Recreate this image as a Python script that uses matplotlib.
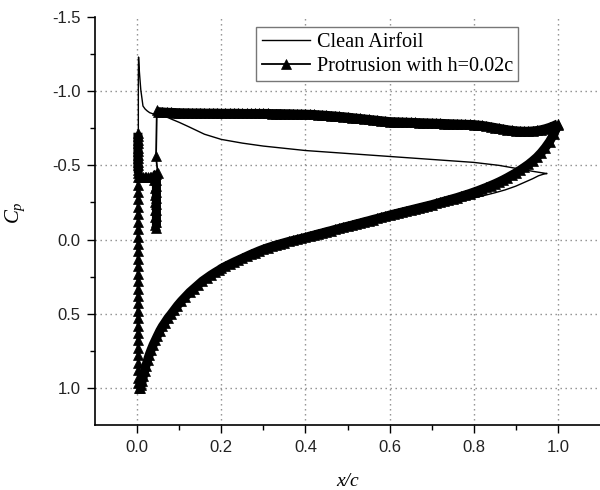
import numpy as np
import matplotlib
matplotlib.use("Agg")
import matplotlib.pyplot as plt

plt.rcParams['axes.unicode_minus'] = False
plt.rcParams['mathtext.fontset'] = 'custom'
plt.rcParams['mathtext.it'] = 'Liberation Serif:italic'
plt.rcParams['mathtext.rm'] = 'Liberation Serif'

# ---------------- data ----------------
# Clean airfoil: lower surface (TE -> LE)
clean_low_x = [0.973, 0.965, 0.954, 0.94, 0.92, 0.9, 0.875, 0.85, 0.825, 0.8, 0.76, 0.716, 0.68,
               0.64, 0.6, 0.55, 0.5, 0.45, 0.4, 0.35, 0.3, 0.25, 0.2, 0.17, 0.15, 0.125, 0.1,
               0.085, 0.07, 0.055, 0.045, 0.035, 0.027, 0.02, 0.015, 0.011, 0.008, 0.006]
clean_low_cp = [-0.445, -0.44, -0.43, -0.41, -0.385, -0.36, -0.335, -0.315, -0.297, -0.28, -0.25,
                -0.22, -0.195, -0.17, -0.15, -0.12, -0.088, -0.052, -0.015, 0.022, 0.065, 0.125,
                0.195, 0.25, 0.29, 0.35, 0.415, 0.46, 0.515, 0.58, 0.63, 0.69, 0.75, 0.81, 0.87,
                0.92, 0.96, 1.0]
# Clean airfoil: upper surface (LE -> TE)
clean_up_x = [0.004, 0.003, 0.003, 0.0035, 0.0055, 0.0088, 0.014, 0.019, 0.024, 0.03, 0.038,
              0.05, 0.065, 0.083, 0.1, 0.123, 0.16, 0.2, 0.25, 0.3, 0.35, 0.4, 0.5, 0.6, 0.7,
              0.8, 0.86, 0.9, 0.94, 0.973]
clean_up_cp = [0.5, -0.5, -1.1, -1.23, -1.13, -1.01, -0.9, -0.88, -0.867, -0.855, -0.847,
               -0.842, -0.832, -0.81, -0.79, -0.76, -0.71, -0.675, -0.65, -0.63, -0.615, -0.6,
               -0.58, -0.56, -0.54, -0.52, -0.5, -0.48, -0.46, -0.445]

# Protrusion h=0.02c: upper surface (x ascending)
prot_up_x = [0.05, 0.06, 0.07, 0.08, 0.09, 0.10, 0.11, 0.12, 0.13, 0.14, 0.15, 0.16, 0.17, 0.18,
             0.19, 0.20, 0.21, 0.22, 0.23, 0.24, 0.25, 0.26, 0.27, 0.28, 0.29, 0.30, 0.31, 0.32,
             0.33, 0.34, 0.35, 0.36, 0.37, 0.38, 0.39, 0.40, 0.41, 0.42, 0.43, 0.44, 0.45, 0.46,
             0.47, 0.48, 0.49, 0.50, 0.51, 0.52, 0.53, 0.54, 0.55, 0.56, 0.57, 0.58, 0.59, 0.60,
             0.61, 0.62, 0.63, 0.64, 0.65, 0.66, 0.67, 0.68, 0.69, 0.70, 0.71, 0.72, 0.73, 0.74,
             0.75, 0.76, 0.77, 0.78, 0.79, 0.80, 0.81, 0.82, 0.83, 0.84, 0.85, 0.86, 0.87, 0.88,
             0.89, 0.90, 0.91, 0.92, 0.93, 0.94, 0.95, 0.96, 0.97, 0.98, 0.99, 1.00]
prot_up_cp = [-0.862, -0.860, -0.858, -0.857, -0.856, -0.855, -0.854, -0.854, -0.853, -0.853,
              -0.853, -0.852, -0.852, -0.852, -0.852, -0.851, -0.851, -0.851, -0.851, -0.851,
              -0.850, -0.850, -0.850, -0.850, -0.850, -0.850, -0.850, -0.849, -0.849, -0.849,
              -0.848, -0.848, -0.847, -0.846, -0.846, -0.845, -0.844, -0.843, -0.841, -0.839,
              -0.837, -0.835, -0.833, -0.830, -0.828, -0.825, -0.822, -0.819, -0.816, -0.813,
              -0.810, -0.807, -0.804, -0.801, -0.798, -0.795, -0.794, -0.793, -0.792, -0.791,
              -0.790, -0.789, -0.788, -0.787, -0.786, -0.785, -0.784, -0.783, -0.782, -0.781,
              -0.780, -0.779, -0.778, -0.777, -0.776, -0.775, -0.772, -0.769, -0.765, -0.760,
              -0.755, -0.750, -0.745, -0.740, -0.736, -0.733, -0.731, -0.730, -0.730, -0.732,
              -0.735, -0.740, -0.747, -0.756, -0.767, -0.780]
# Protrusion: leading-edge / protrusion region (traversal order after upper surface)
prot_le_x = [0.047, 0.045, 0.049, 0.046, 0.046, 0.046, 0.046, 0.046, 0.046, 0.046, 0.046,
             0.046, 0.046, 0.042, 0.042, 0.042, 0.042, 0.042, 0.042, 0.041, 0.038, 0.034,
             0.030, 0.026, 0.022, 0.018, 0.014, 0.010, 0.006, 0.003, 0.002, 0.002, 0.002,
             0.002, 0.002, 0.002, 0.001, 0.001, 0.001, 0.001, 0.001, 0.001, 0.001, 0.001,
             0.001, 0.001, 0.001, 0.001, 0.001, 0.001, 0.001, 0.001, 0.001, 0.001, 0.001,
             0.001, 0.001, 0.001, 0.001, 0.001, 0.001, 0.001, 0.001, 0.001, 0.001, 0.001,
             0.002]
prot_le_cp = [-0.87, -0.56, -0.45, -0.44, -0.40, -0.36, -0.32, -0.28, -0.24, -0.20, -0.16,
              -0.12, -0.08, -0.10, -0.15, -0.20, -0.25, -0.30, -0.35, -0.40, -0.42, -0.42,
              -0.42, -0.42, -0.42, -0.42, -0.42, -0.42, -0.42, -0.45, -0.50, -0.55, -0.60,
              -0.65, -0.70, -0.72, -0.67, -0.62, -0.57, -0.52, -0.47, -0.42, -0.37, -0.32,
              -0.27, -0.22, -0.17, -0.12, -0.07, -0.02, 0.03, 0.08, 0.13, 0.18, 0.23,
              0.28, 0.33, 0.38, 0.43, 0.48, 0.53, 0.58, 0.63, 0.68, 0.73, 0.78,
              0.83]
# Protrusion: lower surface (LE -> TE)
prot_low_x = [0.002, 0.002, 0.003, 0.004, 0.008, 0.010, 0.012, 0.015, 0.018, 0.021, 0.025, 0.029,
              0.033, 0.038, 0.043, 0.048, 0.054, 0.060, 0.066, 0.073, 0.080, 0.088, 0.096,
              0.105, 0.115, 0.125, 0.135, 0.145, 0.155, 0.165, 0.175, 0.185, 0.195,
              0.20, 0.21, 0.22, 0.23, 0.24, 0.25, 0.26, 0.27, 0.28, 0.29, 0.30, 0.31, 0.32,
              0.33, 0.34, 0.35, 0.36, 0.37, 0.38, 0.39, 0.40, 0.41, 0.42, 0.43, 0.44, 0.45,
              0.46, 0.47, 0.48, 0.49, 0.50, 0.51, 0.52, 0.53, 0.54, 0.55, 0.56, 0.57, 0.58,
              0.59, 0.60, 0.61, 0.62, 0.63, 0.64, 0.65, 0.66, 0.67, 0.68, 0.69, 0.70, 0.71,
              0.72, 0.73, 0.74, 0.75, 0.76, 0.77, 0.78, 0.79, 0.80, 0.81, 0.82, 0.83, 0.84,
              0.85, 0.86, 0.87, 0.88, 0.89, 0.90, 0.91, 0.92, 0.93, 0.94, 0.95, 0.96, 0.97,
              0.98, 0.99, 1.00]
prot_low_cp = [0.88, 0.93, 0.97, 1.0, 1.0, 0.98, 0.955, 0.92, 0.885, 0.85, 0.81, 0.775,
               0.745, 0.71, 0.68, 0.65, 0.615, 0.585, 0.56, 0.53, 0.505, 0.475, 0.445,
               0.415, 0.385, 0.355, 0.33, 0.305, 0.28, 0.26, 0.24, 0.222, 0.205,
               0.195, 0.180, 0.166, 0.152, 0.139, 0.126, 0.113, 0.100, 0.088, 0.076, 0.065,
               0.055, 0.046, 0.037, 0.029, 0.021, 0.013, 0.006, -0.001, -0.008, -0.015,
               -0.023, -0.030, -0.038, -0.045, -0.053, -0.060, -0.068, -0.075, -0.083,
               -0.090, -0.097, -0.105, -0.112, -0.120, -0.127, -0.135, -0.142, -0.150,
               -0.157, -0.165, -0.172, -0.179, -0.186, -0.193, -0.200, -0.207, -0.214,
               -0.221, -0.228, -0.235, -0.243, -0.251, -0.259, -0.267, -0.275, -0.283,
               -0.292, -0.301, -0.310, -0.320, -0.330, -0.341, -0.352, -0.364, -0.376,
               -0.389, -0.403, -0.418, -0.434, -0.450, -0.468, -0.487, -0.507, -0.530,
               -0.555, -0.585, -0.620, -0.660, -0.710, -0.770]

x_major = [0.0, 0.2, 0.4, 0.6, 0.8, 1.0]
x_minor = [0.1, 0.3, 0.5, 0.7, 0.9]
y_major = [-1.5, -1.0, -0.5, 0.0, 0.5, 1.0]
y_minor = [-1.25, -0.75, -0.25, 0.25, 0.75]
y_grid = [-1.0, -0.5, 0.0, 0.5, 1.0]
x_labels = ["0.0", "0.2", "0.4", "0.6", "0.8", "1.0"]
y_labels = ["-1.5", "-1.0", "-0.5", "0.0", "0.5", "1.0"]

labels = ["Clean Airfoil", "Protrusion with h=0.02c"]

# ---------------- plot ----------------
fig = plt.figure(figsize=(6.0, 4.9), dpi=100)
ax = fig.add_axes([95 / 600, 65 / 490, 505 / 600, 408 / 490])

for xv in x_major:
    ax.axvline(xv, color='#8a8a8a', lw=1.0, ls=(0, (1, 2.6)), zorder=0)
for yv in y_grid:
    ax.axhline(yv, color='#8a8a8a', lw=1.0, ls=(0, (1, 2.6)), zorder=0)

cx = np.concatenate([clean_low_x, clean_up_x])
cc = np.concatenate([clean_low_cp, clean_up_cp])
ax.plot(cx, cc, color='black', lw=1.0, label=labels[0], zorder=3)

px = np.concatenate([prot_up_x[::-1], prot_le_x, prot_low_x])
pc = np.concatenate([prot_up_cp[::-1], prot_le_cp, prot_low_cp])
ax.plot(px, pc, color='black', lw=1.3, marker='^', markersize=7, markeredgewidth=0.5,
        label=labels[1], zorder=2)

# densely packed marker band (drawn as a thick stroke through the same points)
band_kw = dict(color='black', lw=6.5, solid_capstyle='butt', solid_joinstyle='round', zorder=2)
ax.plot(prot_up_x, prot_up_cp, **band_kw)
ax.plot(prot_low_x[3:], prot_low_cp[3:], **band_kw)
ax.plot(prot_le_x[2:13], prot_le_cp[2:13], **band_kw)
ax.plot(prot_le_x[29:36], prot_le_cp[29:36], **band_kw)

ax.set_xlim(-0.1, 1.1)
ax.set_ylim(1.25, -1.5)

ax.set_xticks(x_major)
ax.set_xticklabels(x_labels)
ax.set_xticks(x_minor, minor=True)
ax.set_yticks(y_major)
ax.set_yticklabels(y_labels)
ax.set_yticks(y_minor, minor=True)

for lab in ax.get_xticklabels() + ax.get_yticklabels():
    lab.set_fontfamily('Liberation Sans')
    lab.set_fontsize(12)
    lab.set_color('#222222')

ax.tick_params(which='major', direction='out', length=5.5, width=1.0, pad=5)
ax.tick_params(which='minor', direction='out', length=3.5, width=1.0)

for s in ['top', 'right']:
    ax.spines[s].set_visible(False)
for s in ['left', 'bottom']:
    ax.spines[s].set_linewidth(1.2)

ax.set_xlabel('x/c', fontfamily='Liberation Serif', style='italic', fontsize=14)
ax.xaxis.set_label_coords(0.5, -0.118)
ax.set_ylabel('$C_p$', fontsize=15)
ax.yaxis.set_label_coords(-0.135, 0.52)

leg = ax.legend(loc='upper left', bbox_to_anchor=(0.319, 0.975), borderaxespad=0,
                prop={'family': 'Liberation Serif', 'size': 14.6}, numpoints=1,
                handlelength=2.4, handletextpad=0.3, borderpad=0.28, labelspacing=0.22,
                fancybox=False, framealpha=1.0, edgecolor='#777777')
leg.get_frame().set_linewidth(1.0)

fig.savefig('out.png', dpi=100)
